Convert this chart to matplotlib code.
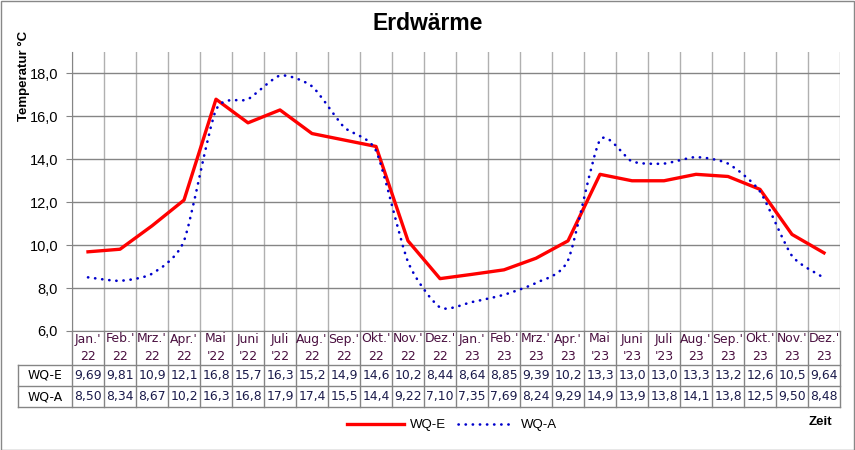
import numpy as np
import matplotlib
matplotlib.use("Agg")
import matplotlib.pyplot as plt
from matplotlib.path import Path
from matplotlib.patches import PathPatch, Rectangle
from matplotlib.lines import Line2D
from matplotlib.transforms import blended_transform_factory

# data
months = ["Jan.'\n22", "Feb.'\n22", "Mrz.'\n22", "Apr.'\n22", "Mai\n'22", "Juni\n'22",
          "Juli\n'22", "Aug.'\n22", "Sep.'\n22", "Okt.'\n22", "Nov.'\n22", "Dez.'\n22",
          "Jan.'\n23", "Feb.'\n23", "Mrz.'\n23", "Apr.'\n23", "Mai\n'23", "Juni\n'23",
          "Juli\n'23", "Aug.'\n23", "Sep.'\n23", "Okt.'\n23", "Nov.'\n23", "Dez.'\n23"]
wq_e = [9.69, 9.81, 10.9, 12.1, 16.8, 15.7, 16.3, 15.2, 14.9, 14.6, 10.2, 8.44,
        8.64, 8.85, 9.39, 10.2, 13.3, 13.0, 13.0, 13.3, 13.2, 12.6, 10.5, 9.64]
wq_a = [8.50, 8.34, 8.67, 10.2, 16.3, 16.8, 17.9, 17.4, 15.5, 14.4, 9.22, 7.10,
        7.35, 7.69, 8.24, 9.29, 14.9, 13.9, 13.8, 14.1, 13.8, 12.5, 9.50, 8.48]
series_names = ["WQ-E", "WQ-A"]
yticks = [6, 8, 10, 12, 14, 16, 18]

plt.rcParams['font.family'] = ['Liberation Sans', 'DejaVu Sans']

W, H = 855, 450
fig = plt.figure(figsize=(W / 100, H / 100), dpi=100)

# plot area in pixels
L, R, T, B = 72, 840, 52, 331
ax = fig.add_axes([L / W, 1 - B / H, (R - L) / W, (B - T) / H])

n = len(months)
x = np.arange(n)
red = '#ff0000'
blue = '#0000cc'

ax.plot(x, wq_e, color=red, lw=2.4, solid_joinstyle='round', zorder=4, clip_on=False)


def smooth_path(xs, ys, k=0.11):
    # bezier smoothing like the spreadsheet "smoothed line"
    p = np.column_stack([xs, ys]).astype(float)
    verts = [p[0]]
    codes = [Path.MOVETO]
    for i in range(len(p) - 1):
        p0 = p[i - 1] if i > 0 else p[i]
        p3 = p[i + 2] if i + 2 < len(p) else p[i + 1]
        c1 = p[i] + (p[i + 1] - p0) * k
        c2 = p[i + 1] - (p3 - p[i]) * k
        verts += [c1, c2, p[i + 1]]
        codes += [Path.CURVE4] * 3
    return Path(verts, codes)


patch = PathPatch(smooth_path(x, wq_a), fill=False, edgecolor=blue, lw=1.9,
                  linestyle=(0, (0.1, 2.6)), capstyle='round', zorder=4, clip_on=False)
ax.add_patch(patch)

ax.set_xlim(-0.5, n - 0.5)
ax.set_ylim(6, 19)
ax.set_yticks(yticks)
ax.set_yticklabels([f"{v:.1f}".replace('.', ',') for v in yticks], fontsize=10.5)
ax.set_xticks(np.arange(n + 1) - 0.5, minor=True)
ax.set_xticks([])
ax.grid(axis='y', color='#858585', lw=1)
ax.grid(axis='x', which='minor', color='#b0b0b0', lw=1)
ax.tick_params(axis='y', length=4, color='#858585', pad=6)
ax.tick_params(axis='x', which='minor', length=0)
for s in ['top', 'right']:
    ax.spines[s].set_visible(False)
for s in ['left', 'bottom']:
    ax.spines[s].set_color('#858585')
ax.set_axisbelow(True)

# data table under the plot
tr = blended_transform_factory(ax.transData, ax.transAxes)
ph = B - T
row_y = [0, -(365 - B) / ph, -(386 - B) / ph, -(407 - B) / ph]
xl = -0.5 - (L - 18) / ((R - L) / n)
lc = '#858585'
for k in range(n + 1):
    ax.add_line(Line2D([k - 0.5, k - 0.5], [0, row_y[-1]], transform=tr, color=lc,
                       lw=1, clip_on=False))
for yy in row_y[1:]:
    ax.add_line(Line2D([xl, n - 0.5], [yy, yy], transform=tr, color=lc, lw=1, clip_on=False))
ax.add_line(Line2D([xl, xl], [row_y[1], row_y[-1]], transform=tr, color=lc, lw=1, clip_on=False))

tfont = dict(family='DejaVu Sans', fontsize=8.9)
for i, m in enumerate(months):
    ax.text(i, (row_y[0] + row_y[1]) / 2, m, transform=tr, ha='center', va='center',
            color='#4a1040', linespacing=1.5, **tfont)


def fmt(v):
    s = f"{v:.2f}" if v < 10 else f"{v:.1f}"
    return s.replace('.', ',')


for r, (name, vals) in enumerate(zip(series_names, [wq_e, wq_a])):
    yc = (row_y[r + 1] + row_y[r + 2]) / 2
    ax.text((xl - 0.5) / 2, yc, name, transform=tr, ha='center', va='center',
            color='black', **tfont)
    for i, v in enumerate(vals):
        ax.text(i, yc, fmt(v), transform=tr, ha='center', va='center',
                color='#1a1a4a', **tfont)

# legend
blue_handle = Line2D([], [], color=blue, lw=1.9, linestyle=(0, (0.1, 2.6)),
                     dash_capstyle='round')
handles = [Line2D([], [], color=red, lw=2.4), blue_handle]
fig.legend(handles, series_names, loc='center', bbox_to_anchor=(452 / W, 1 - 425 / H),
           ncol=2, frameon=False, fontsize=9.5, handlelength=4.3, columnspacing=0.95,
           handletextpad=0.45)

fig.text(0.5, 1 - 23 / H, "Erdwärme", ha='center', va='center', fontsize=16.5,
         fontweight='bold')
fig.text(24 / W, 1 - 76 / H, "Temperatur °C", rotation=90, ha='center', va='center',
         fontsize=9.5, fontweight='bold')
fig.text(820 / W, 1 - 422 / H, "Zeit", ha='center', va='center', fontsize=9.5,
         fontweight='bold')

fig.add_artist(Rectangle((0.5 / W, 0.5 / H), 1 - 1.5 / W, 1 - 1.5 / H,
                         transform=fig.transFigure, fill=False, edgecolor='#888888', lw=1))

fig.savefig("out.png", dpi=100)
